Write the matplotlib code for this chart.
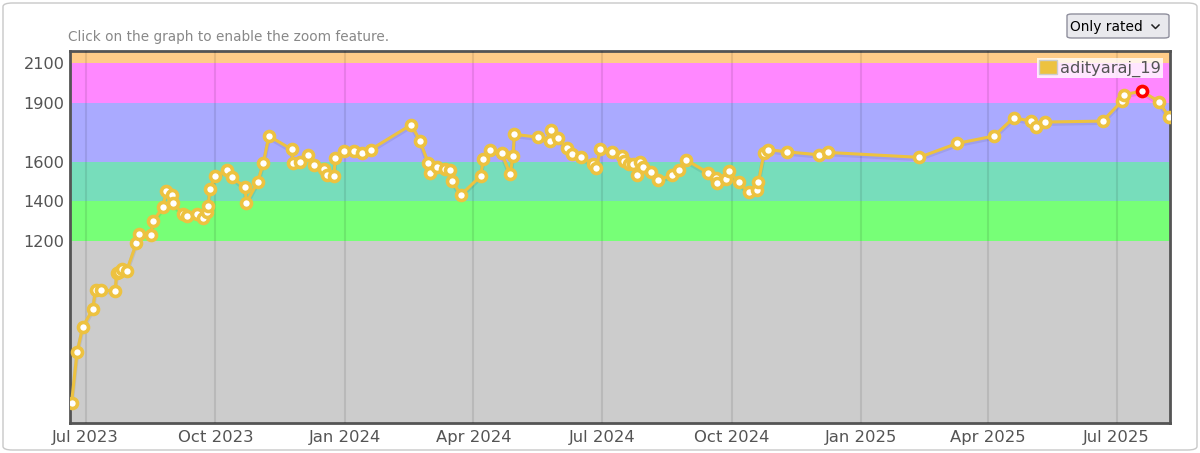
import numpy as np
import pandas as pd
import matplotlib
matplotlib.use("Agg")
from matplotlib import pyplot as plt
import matplotlib.dates as mdates
from matplotlib.patches import FancyBboxPatch, Patch
from matplotlib.lines import Line2D

# contest dates and rating after each contest
dates = [
  "2023-06-21", "2023-06-25", "2023-06-29", "2023-07-06", "2023-07-08", "2023-07-12",
  "2023-07-22", "2023-07-23", "2023-07-25", "2023-07-27", "2023-07-30", "2023-08-06",
  "2023-08-08", "2023-08-16", "2023-08-18", "2023-08-25", "2023-08-27", "2023-08-31",
  "2023-09-01", "2023-09-08", "2023-09-11", "2023-09-18", "2023-09-22", "2023-09-25",
  "2023-09-26", "2023-09-27", "2023-10-01", "2023-10-09", "2023-10-13", "2023-10-22",
  "2023-10-23", "2023-10-31", "2023-11-04", "2023-11-08", "2023-11-24", "2023-11-25",
  "2023-11-30", "2023-12-06", "2023-12-10", "2023-12-17", "2023-12-19", "2023-12-24",
  "2023-12-25", "2023-12-31", "2024-01-07", "2024-01-13", "2024-01-19", "2024-02-17",
  "2024-02-23", "2024-02-29", "2024-03-01", "2024-03-06", "2024-03-12", "2024-03-15",
  "2024-03-17", "2024-03-23", "2024-04-06", "2024-04-08", "2024-04-13", "2024-04-21",
  "2024-04-27", "2024-04-29", "2024-04-30", "2024-05-17", "2024-05-25", "2024-05-26",
  "2024-05-31", "2024-06-06", "2024-06-10", "2024-06-16", "2024-06-25", "2024-06-27",
  "2024-06-30", "2024-07-08", "2024-07-15", "2024-07-17", "2024-07-20", "2024-07-23",
  "2024-07-26", "2024-07-28", "2024-07-30", "2024-08-05", "2024-08-10", "2024-08-20",
  "2024-08-25", "2024-08-30", "2024-09-14", "2024-09-20", "2024-09-21", "2024-09-27",
  "2024-09-29", "2024-10-06", "2024-10-13", "2024-10-19", "2024-10-20", "2024-10-24",
  "2024-10-27", "2024-11-09", "2024-12-02", "2024-12-08", "2025-02-11", "2025-03-10",
  "2025-04-05", "2025-04-19", "2025-05-01", "2025-05-05", "2025-05-11", "2025-06-21",
  "2025-07-05", "2025-07-06", "2025-07-19", "2025-07-31", "2025-08-07",
]
ratings = [
  378, 637, 764, 852, 950, 950,
  946, 1035, 1043, 1055, 1046, 1188,
  1234, 1230, 1301, 1372, 1454, 1430,
  1393, 1335, 1325, 1335, 1315, 1346,
  1376, 1464, 1528, 1559, 1522, 1471,
  1393, 1498, 1596, 1731, 1664, 1596,
  1601, 1635, 1584, 1562, 1531, 1528,
  1618, 1654, 1654, 1645, 1662, 1789,
  1707, 1593, 1545, 1572, 1562, 1559,
  1504, 1432, 1528, 1613, 1660, 1643,
  1538, 1630, 1740, 1725, 1707, 1762,
  1720, 1670, 1640, 1626, 1589, 1570,
  1663, 1650, 1630, 1603, 1588, 1589,
  1533, 1597, 1574, 1551, 1509, 1532,
  1560, 1609, 1546, 1520, 1494, 1511,
  1554, 1498, 1447, 1459, 1497, 1645,
  1662, 1651, 1636, 1648, 1623, 1694,
  1731, 1824, 1807, 1778, 1802, 1807,
  1910, 1941, 1959, 1905, 1829,
]
handle = "adityaraj_19"

# rank bands
band_lo = [0, 1200, 1400, 1600, 1900, 2100]
band_hi = [1200, 1400, 1600, 1900, 2100, 2300]
band_col = ["#CCCCCC", "#77FF77", "#77DDBB", "#AAAAFF", "#FF88FF", "#FFCC88"]
yticks = [1200, 1400, 1600, 1900, 2100]

x = pd.to_datetime(dates)
y = np.array(ratings)
txt = "#545454"
line_col = "#EDC240"

fig = plt.figure(figsize=(12, 4.53), dpi=100)
ax = fig.add_axes([70/1200, 1-423.3/453, 1100/1200, (423.3-50.7)/453])

for lo, hi, c in zip(band_lo, band_hi, band_col):
  ax.axhspan(lo, hi, color=c, lw=0, zorder=0)

# vertical grid at quarter ticks
ax.xaxis.set_major_locator(mdates.MonthLocator(bymonth=[1, 4, 7, 10]))
ax.xaxis.set_major_formatter(mdates.DateFormatter("%b %Y"))
ax.grid(axis="x", color="#000000", alpha=0.09, lw=1.5, zorder=1)
ax.set_axisbelow(False)

# soft shadow, then the line itself
ax.plot(x, y - 9, color="#000000", alpha=0.07, lw=3, zorder=2)
ax.plot(x, y, color=line_col, lw=2.2, zorder=3, solid_joinstyle="round",
        marker="o", ms=7.2, mfc="white", mec=line_col, mew=2.6)
imax = int(np.argmax(y))
ax.plot(x[imax], y[imax], marker="o", ms=7.2, mfc="white", mec="#FF0000", mew=2.6,
        ls="none", zorder=4)

ax.set_xlim(x[0] - pd.Timedelta(hours=26), x[-1] + pd.Timedelta(hours=20))
ax.set_ylim(274, 2164)
ax.set_yticks(yticks)
ax.tick_params(length=0, labelsize=11.8, labelcolor=txt, pad=5)
ax.tick_params(axis="y", labelsize=11.6, pad=4)
for s in ax.spines.values():
  s.set_color(txt)
  s.set_linewidth(2)

leg = ax.legend(handles=[Patch(facecolor=line_col, edgecolor="#cccccc", lw=1)],
                labels=[handle], loc="upper right", frameon=True, fancybox=False,
                framealpha=0.8, edgecolor="none", borderpad=0.1, handlelength=1.1,
                handleheight=1.0, handletextpad=0.2, borderaxespad=0.45,
                fontsize=11.7, labelcolor=txt)
leg.get_frame().set_linewidth(0)

# page decorations: outer rounded box, hint, dropdown
fig.patches.append(FancyBboxPatch((3/1200, 3/453), 1194/1200, 447/453,
  boxstyle="round,pad=0,rounding_size=0.008", transform=fig.transFigure,
  fc="none", ec="#C8C8C8", lw=1))
fig.text(68/1200, 1-37/453, "Click on the graph to enable the zoom feature.",
         fontsize=9.8, color="#888888", va="center", ha="left")
fig.patches.append(FancyBboxPatch((1067/1200, 1-38/453), 102/1200, 24/453,
  boxstyle="round,pad=0,rounding_size=0.004", transform=fig.transFigure,
  fc="#E9E9ED", ec="#8F8F9D", lw=1))
fig.text(1070/1200, 1-26.5/453, "Only rated", fontsize=9.9, color="#000000",
         va="center", ha="left")
fig.lines.append(Line2D([1152/1200, 1155.5/1200, 1159/1200],
  [1-25/453, 1-28.5/453, 1-25/453], transform=fig.transFigure,
  color="#222222", lw=1.1))

fig.savefig("out.png", dpi=100)
